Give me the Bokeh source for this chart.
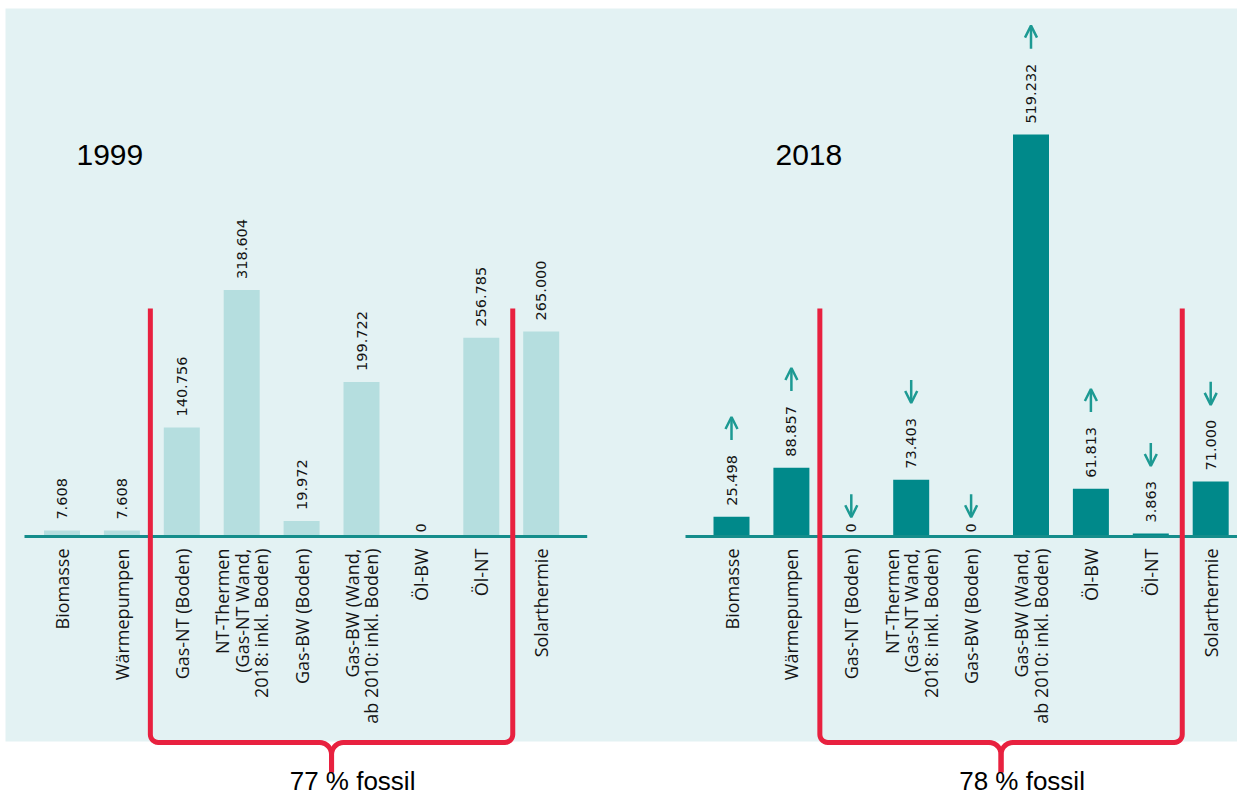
import numpy as np
from bokeh.plotting import figure
from bokeh.models import ColumnDataSource, Range1d, BoxAnnotation, Arrow, OpenHead
from bokeh.core.properties import value
from bokeh.embed import file_html
from bokeh.resources import INLINE

# ---------------- data ----------------
categories = [
    "Biomasse",
    "Wärmepumpen",
    "Gas-NT (Boden)",
    "NT-Thermen\n(Gas-NT Wand,\n2018: inkl. Boden)",
    "Gas-BW (Boden)",
    "Gas-BW (Wand,\nab 2010: inkl. Boden)",
    "Öl-BW",
    "Öl-NT",
    "Solarthermie",
]
values_1999 = [7.608, 7.608, 140.756, 318.604, 19.972, 199.722, 0.0, 256.785, 265.000]
labels_1999 = ["7.608", "7.608", "140.756", "318.604", "19.972", "199.722", "0", "256.785", "265.000"]
values_2018 = [25.498, 88.857, 0.0, 73.403, 0.0, 519.232, 61.813, 3.863, 71.000]
labels_2018 = ["25.498", "88.857", "0", "73.403", "0", "519.232", "61.813", "3.863", "71.000"]
trend_2018 = ["up", "up", "down", "down", "down", "up", "up", "down", "down"]
years = ["1999", "2018"]
fossil_labels = ["77 % fossil", "78 % fossil"]
fossil_first, fossil_last = 2, 7   # first and last fossil category index

# ---------------- layout ----------------
W, H = 1237, 796
SLOT = 59.9          # px per category
K = 0.774            # px per value unit
BASE_PX = 536        # canvas y of the baseline (from top)
X0_PX = 61.5         # canvas x of first 1999 bar
OFF_2018 = 669.5 / SLOT
TXT_SHIFT = 12       # correction for alphabetic baseline placement


def ydata(py):
    return (BASE_PX - py) / K


def xdata(px):
    return (px - X0_PX) / SLOT


def dxu(px):
    return px / SLOT


def dyu(px):
    return px / K


PANEL = "#e3f2f3"
BAR99 = "#b5dedf"
BAR18 = "#00898a"
BASE = "#148d8b"
RED = "#e8213f"
ARROW = "#1d9a93"
TXT = "#151515"

p = figure(width=W, height=H, output_backend="svg", toolbar_location=None,
           x_range=Range1d(xdata(0), xdata(W)),
           y_range=Range1d(ydata(H), ydata(0)),
           min_border=0, tools="")
p.axis.visible = False
p.grid.visible = False
p.outline_line_color = None
p.background_fill_color = "white"
p.border_fill_color = "white"

p.add_layout(BoxAnnotation(left=xdata(5), top=ydata(8), bottom=ydata(741),
                           fill_color=PANEL, fill_alpha=1,
                           line_color=None, level="underlay"))

idx = np.arange(len(categories))
groups = [
    (idx.astype(float), values_1999, labels_1999, BAR99, years[0], fossil_labels[0], 14.5),
    (idx + OFF_2018, values_2018, labels_2018, BAR18, years[1], fossil_labels[1], 44.0),
]

DIGIT_W, DOT_W, VFS = 0.636, 0.318, 14.5  # DejaVu Sans advance widths


def label_px(s):
    return VFS * sum(DOT_W if c == "." else DIGIT_W for c in s)


for gi, (xs, vals, labs, col, year, fossil, title_dx) in enumerate(groups):
    src = ColumnDataSource(dict(
        x=xs, top=vals, lab=labs, cat=categories,
        yoff=[-4 if v == 0 else -11 for v in vals],
    ))
    p.vbar(x="x", top="top", bottom=0, width=dxu(36), source=src,
           fill_color=col, line_color=None)

    # baseline
    x_end = xs[-1] + dxu(46) if gi == 0 else p.x_range.end
    p.line([xs[0] - dxu(37.5 if gi == 0 else 46), x_end], [0, 0],
           line_color=BASE, line_width=3)

    # value labels
    p.text(x="x", y="top", text="lab", source=src, angle=np.pi / 2,
           text_align="left", text_baseline="middle", y_offset="yoff",
           text_font=value("DejaVu Sans"), text_font_size=f"{VFS}px", text_color=TXT)

    # category labels
    p.text(x="x", y=0, text="cat", source=src, angle=np.pi / 2,
           text_align="right", text_baseline="middle", y_offset=12,
           text_font=value("Open Sans"), text_font_size="18px",
           text_line_height=0.82, text_color=TXT)

    # year title
    p.text(x=[xs[0] + dxu(title_dx)], y=[ydata(166 - TXT_SHIFT)], text=[year],
           text_align="left", text_baseline="alphabetic",
           text_font=value("Liberation Sans"), text_font_size="30px", text_color="black")

    # fossil bracket
    xl = (xs[fossil_first - 1] + xs[fossil_first]) / 2 - dxu(1.5)
    xr = (xs[fossil_last] + xs[fossil_last + 1]) / 2 + dxu(1.5)
    xc = (xl + xr) / 2
    ytop = ydata(308)
    yh = ydata(742)
    ypk = ydata(772)
    r = 8
    q = 12
    a1 = np.linspace(np.pi, 1.5 * np.pi, 8)
    a2 = np.linspace(0.5 * np.pi, 0.0, 8)
    hx = list([xl, xl]) + list(xl + dxu(r) + dxu(r) * np.cos(a1)) + \
        list(xc - dxu(q) + dxu(q) * np.cos(a2)) + [xc]
    hy = list([ytop, yh + dyu(r)]) + list(yh + dyu(r) + dyu(r) * np.sin(a1)) + \
        list(yh - dyu(q) + dyu(q) * np.sin(a2)) + [ypk]
    hx = np.array(hx)
    p.line(hx, hy, line_color=RED, line_width=5, line_join="round")
    p.line(2 * xc - hx, hy, line_color=RED, line_width=5, line_join="round")

    p.text(x=[xc + dxu(21)], y=[ydata(792 - TXT_SHIFT)], text=[fossil],
           text_align="center", text_baseline="alphabetic",
           text_font=value("Liberation Sans"), text_font_size="26px", text_color="black")

# trend arrows for 2018
xs18 = groups[1][0]
ys0, ys1 = [], []
for v, lab, tr in zip(values_2018, labels_2018, trend_2018):
    gap = 4 if v == 0 else 11
    agap = 6 if v == 0 else 15
    bottom = v + dyu(gap + label_px(lab) + agap)
    top = bottom + dyu(23)
    if tr == "up":
        ys0.append(bottom); ys1.append(top)
    else:
        ys0.append(top); ys1.append(bottom)
asrc = ColumnDataSource(dict(x=xs18, y0=ys0, y1=ys1))
p.add_layout(Arrow(end=OpenHead(size=12, line_width=2.5, line_color=ARROW),
                   x_start="x", y_start="y0", x_end="x", y_end="y1",
                   line_color=ARROW, line_width=2.5, source=asrc))

open("out.html", "w").write(file_html(p, INLINE))
